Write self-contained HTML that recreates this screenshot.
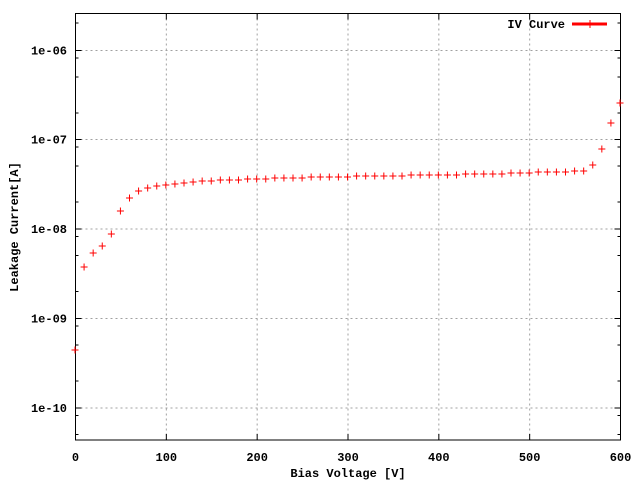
<!DOCTYPE html>
<html><head><meta charset="utf-8"><style>
body{margin:0;background:#fff}
text{font-family:"Liberation Mono","DejaVu Sans Mono",monospace;font-weight:bold;font-size:12px;fill:#000}
</style></head><body>
<svg id="s" width="640" height="480" xmlns="http://www.w3.org/2000/svg"></svg>
<script>
const s=document.getElementById('s');let h='';
const L=75.5,R=620.5,T=13.5,B=440;
const X=v=>L+v*(R-L)/600;
const dec={'-6':50.5,'-7':139.5,'-8':229,'-9':318.5,'-10':408};
// grid
for(let v=100;v<600;v+=100){h+=`<line x1="${X(v)}" y1="${T}" x2="${X(v)}" y2="${B}" stroke="#a0a0a0" stroke-dasharray="2,3"/>`;}
for(const k in dec){const y=dec[k];h+=`<line x1="${L}" y1="${y}" x2="${R}" y2="${y}" stroke="#a0a0a0" stroke-dasharray="2,3"/>`;
 h+=`<line x1="${L}" y1="${y}" x2="${L+6}" y2="${y}" stroke="#000"/><line x1="${R}" y1="${y}" x2="${R-6}" y2="${y}" stroke="#000"/>`;
 h+=`<text x="67" y="${y+4}" text-anchor="end">1e${k.length==2?'-0'+k[1]:k}</text>`;
 for(const o of [7.5,26.5,62.5]){const yy=y+o;if(yy<B){h+=`<line x1="${L}" y1="${yy}" x2="${L+3}" y2="${yy}" stroke="#000"/><line x1="${R}" y1="${yy}" x2="${R-3}" y2="${yy}" stroke="#000"/>`;}}
}
h+=`<line x1="${L}" y1="23" x2="${L+3}" y2="23" stroke="#000"/><line x1="${R}" y1="23" x2="${R-3}" y2="23" stroke="#000"/>`;
for(let v=0;v<=600;v+=100){const x=X(v);h+=`<line x1="${x}" y1="${B}" x2="${x}" y2="${B-6}" stroke="#000"/><line x1="${x}" y1="${T}" x2="${x}" y2="${T+6}" stroke="#000"/><text x="${x}" y="461" text-anchor="middle">${v}</text>`;}
h+=`<rect x="${L}" y="${T}" width="${R-L}" height="${B-T}" fill="none" stroke="#000"/>`;
h+=`<text x="348" y="477" text-anchor="middle">Bias Voltage [V]</text>`;
h+=`<text transform="translate(18,227) rotate(-90)" text-anchor="middle">Leakage Current[A]</text>`;
h+=`<text x="565" y="28" text-anchor="end">IV Curve</text><line x1="572" y1="24" x2="607" y2="24" stroke="#f00" stroke-width="3"/><line x1="590" y1="20" x2="590" y2="28" stroke="#f00"/>`;
const ys=[350,267,253,246,234,211,198,191,188,186,185,184,183,182,181,181,180,180,180,179,179,179,178,178,178,178,177,177,177,177,177,176,176,176,176,176,176,175,175,175,175,175,175,174,174,174,174,174,173,173,173,172,172,172,172,171,171,165,149,123,103];
ys.forEach((y,i)=>{const x=X(i*10)-0.5;h+=`<path d="M${x-3.5} ${y}H${x+3.5}M${x} ${y-3.5}V${y+3.5}" stroke="#f00" stroke-width="1"/>`;});
s.innerHTML=h;
</script>
</body></html>
